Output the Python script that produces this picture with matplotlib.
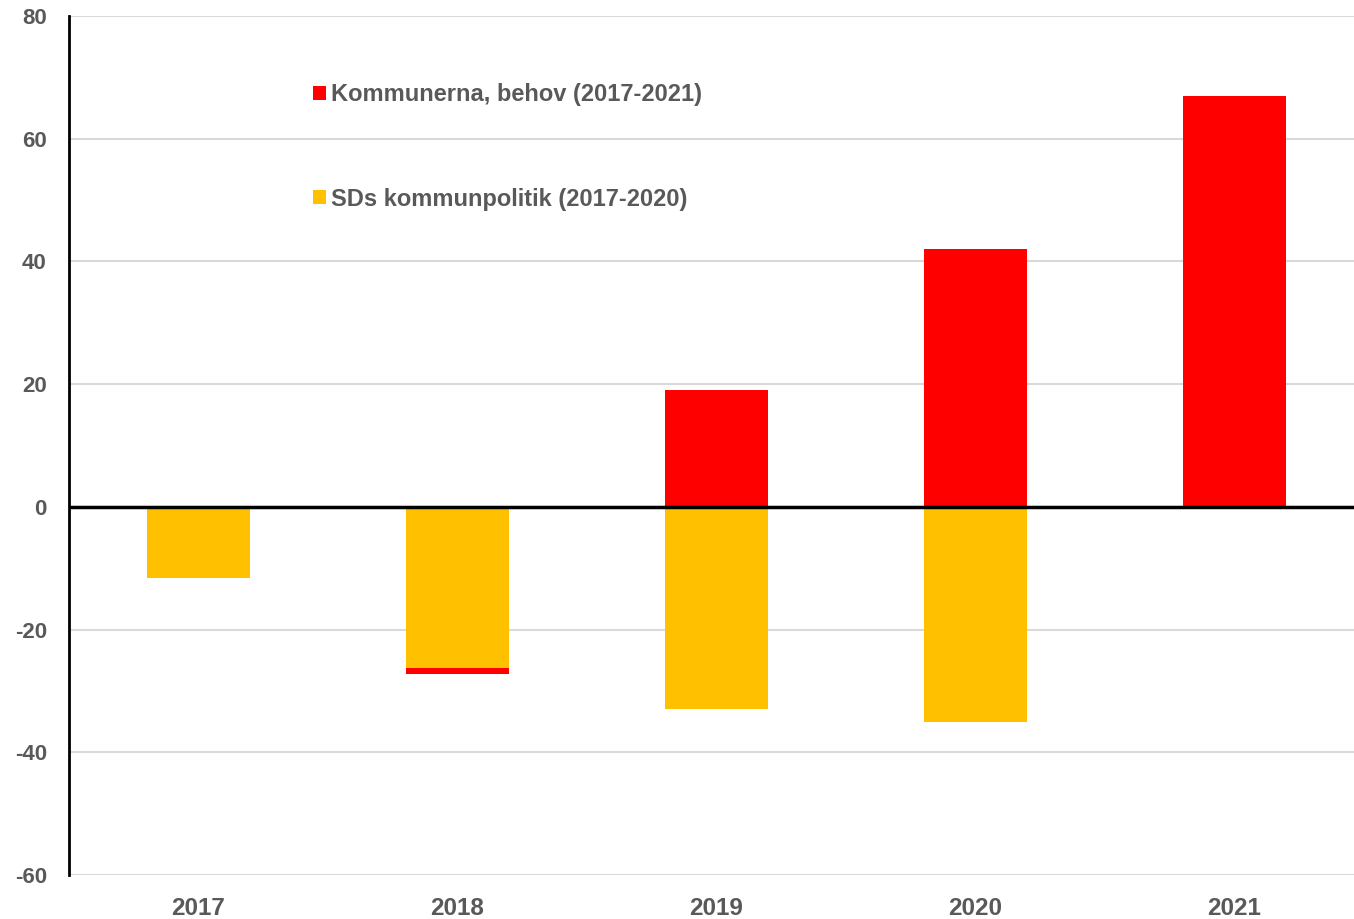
import matplotlib
matplotlib.use("Agg")
import matplotlib.pyplot as plt
import numpy as np
from matplotlib.patches import Patch

years = ["2017", "2018", "2019", "2020", "2021"]
kommunerna = [0, -1.0, 19, 42, 67]
sd = [-11.6, -26.2, -33, -35, 0]
label_k = "Kommunerna, behov (2017-2021)"
label_sd = "SDs kommunpolitik (2017-2020)"
yticks = [-60, -40, -20, 0, 20, 40, 60, 80]

RED = "#ff0000"
YELLOW = "#ffc000"
TXT = "#595959"

plt.rcParams['font.family'] = ['Liberation Sans', 'DejaVu Sans']

fig = plt.figure(figsize=(13.54, 9.19), dpi=100)
ax = fig.add_axes([69/1354, 1-875/919, (1364-69)/1354, (875-16)/919])

x = np.arange(len(years))
k = np.array(kommunerna, dtype=float)
s = np.array(sd, dtype=float)
k_bottom = np.where(k < 0, np.minimum(s, 0), np.where(s > 0, s, 0))

w = 0.4
ax.bar(x, s, width=w, color=YELLOW, zorder=2, label=label_sd)
ax.bar(x, k, width=w, bottom=k_bottom, color=RED, zorder=2, label=label_k)

ax.set_xlim(-0.5, len(years) - 0.5)
ax.set_ylim(-60, 80)
ax.set_yticks(yticks)
ax.set_yticklabels([str(v) for v in yticks])
ax.set_xticks(x)
ax.set_xticklabels(years)

ax.grid(axis='y', color='#d9d9d9', linewidth=1.5, zorder=0)
ax.set_axisbelow(True)
ax.axhline(0, color='black', linewidth=2.5, zorder=3)

for sp in ['top', 'right', 'bottom']:
    ax.spines[sp].set_visible(False)
ax.spines['left'].set_color('black')
ax.spines['left'].set_linewidth(2)
ax.spines['left'].set_zorder(4)

ax.tick_params(axis='both', length=0)
ax.tick_params(axis='y', pad=16, labelsize=16, labelcolor=TXT)
ax.tick_params(axis='x', pad=16, labelsize=17.5, labelcolor=TXT)
for lbl in ax.get_xticklabels() + ax.get_yticklabels():
    lbl.set_fontweight('bold')

handles = [Patch(facecolor=RED, edgecolor='none'), Patch(facecolor=YELLOW, edgecolor='none')]
leg = ax.legend(handles, [label_k, label_sd], loc='center left',
                bbox_to_anchor=(301/1354, 1-147/919), bbox_transform=fig.transFigure,
                frameon=False, borderpad=0, handlelength=0.55, handleheight=0.55,
                handletextpad=0.2, labelspacing=3.45,
                prop={'weight': 'bold', 'size': 17})
for t in leg.get_texts():
    t.set_color(TXT)

fig.savefig("out.png", dpi=100)
